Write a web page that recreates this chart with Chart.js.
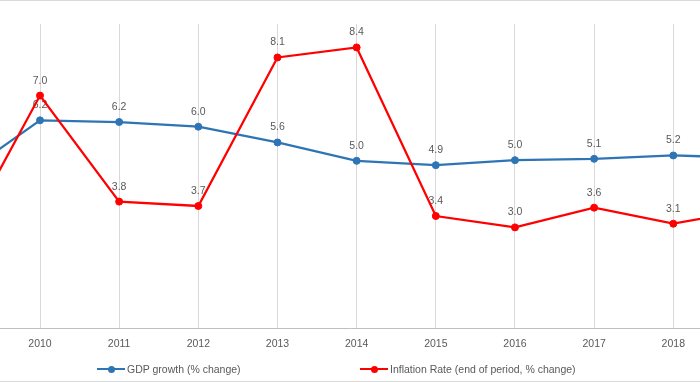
<!DOCTYPE html>
<html>
<head>
<meta charset="utf-8">
<script src="https://cdn.jsdelivr.net/npm/chart.js@4.4.1/dist/chart.umd.min.js"></script>
<style>
  html, body { margin: 0; padding: 0; background: #ffffff; overflow: hidden; }
  #wrap { position: relative; width: 700px; height: 382px; background: #ffffff; }
  #c { position: absolute; left: 0; top: 0; }
  .bd { position: absolute; left: 0; width: 700px; height: 1px; background: #d9d9d9; }
  .leg { position: absolute; top: 363px; height: 12px; display: flex; align-items: center;
         font-family: "Liberation Sans", Arial, sans-serif; font-size: 10.5px; color: #595959; white-space: nowrap; }
  .mk { position: relative; width: 28px; height: 8px; margin-right: 2px; }
  .mk::before { content: ""; position: absolute; left: 0; right: 0; top: 3px; height: 2px; background: var(--c); }
  .mk::after { content: ""; position: absolute; left: 10.5px; top: 0.5px; width: 7px; height: 7px; border-radius: 50%; background: var(--c); }
</style>
</head>
<body>
<div id="wrap">
  <canvas id="c" width="700" height="382"></canvas>
  <div class="bd" style="top:0"></div>
  <div class="bd" style="top:381px"></div>
  <div class="leg" style="left:97px"><span class="mk" style="--c:#2E75B6"></span><span id="l0"></span></div>
  <div class="leg" style="left:360px"><span class="mk" style="--c:#FF0000"></span><span id="l1"></span></div>
</div>
<script>
// Data (the chart is cropped: 2009 and 2019 lie just outside the frame)
const years = [2009, 2010, 2011, 2012, 2013, 2014, 2015, 2016, 2017, 2018, 2019];
const gdpGrowth = [4.55, 6.22, 6.17, 6.03, 5.56, 5.01, 4.88, 5.03, 5.07, 5.17, 5.1];
const inflation = [2.6, 6.96, 3.79, 3.66, 8.1, 8.4, 3.36, 3.02, 3.61, 3.13, 3.55];
const seriesNames = ["GDP growth (% change)", "Inflation Rate (end of period, % change)"];

document.getElementById('l0').textContent = seriesNames[0];
document.getElementById('l1').textContent = seriesNames[1];

const FONT = '"Liberation Sans", Arial, sans-serif';
const LABEL_COLOR = '#595959';

const toPoints = arr => arr.map((v, i) => ({ x: years[i], y: v }));

const dataLabels = {
  id: 'dataLabels',
  beforeDatasetsDraw(chart) {
    const ctx = chart.ctx;
    const area = chart.chartArea;
    ctx.save();
    ctx.font = '10.5px ' + FONT;
    ctx.fillStyle = LABEL_COLOR;
    ctx.textAlign = 'center';
    ctx.textBaseline = 'alphabetic';
    chart.data.datasets.forEach((ds, di) => {
      const meta = chart.getDatasetMeta(di);
      meta.data.forEach((pt, i) => {
        if (pt.x < area.left - 0.5 || pt.x > area.right + 0.5) return;
        ctx.fillText(ds.data[i].y.toFixed(1), pt.x, pt.y - 12);
      });
    });
    ctx.restore();
  }
};

new Chart(document.getElementById('c'), {
  type: 'line',
  data: {
    datasets: [
      {
        label: seriesNames[0],
        data: toPoints(gdpGrowth),
        borderColor: '#2E75B6',
        backgroundColor: '#2E75B6',
        borderWidth: 2.25,
        pointRadius: 3.5,
        pointBorderWidth: 1,
        pointBackgroundColor: '#2E75B6',
        pointBorderColor: '#2E75B6',
        tension: 0,
        order: 2
      },
      {
        label: seriesNames[1],
        data: toPoints(inflation),
        borderColor: '#FF0000',
        backgroundColor: '#FF0000',
        borderWidth: 2.25,
        pointRadius: 3.5,
        pointBorderWidth: 1,
        pointBackgroundColor: '#FF0000',
        pointBorderColor: '#FF0000',
        tension: 0,
        order: 1
      }
    ]
  },
  options: {
    responsive: false,
    animation: false,
    devicePixelRatio: 1,
    layout: { autoPadding: false, padding: { top: 24, bottom: 22, left: 0, right: 0 } },
    plugins: { legend: { display: false }, tooltip: { enabled: false } },
    scales: {
      x: {
        type: 'linear',
        min: 2009.4947,
        max: 2018.3373,
        grid: { color: '#d9d9d9', lineWidth: 1, drawTicks: false },
        border: { display: true, color: '#bfbfbf', width: 1 },
        ticks: {
          stepSize: 1,
          includeBounds: false,
          autoSkip: false,
          maxRotation: 0,
          padding: 9.5,
          color: LABEL_COLOR,
          font: { family: FONT, size: 10.5 },
          callback: v => (years.includes(v) ? String(v) : '')
        }
      },
      y: {
        display: false,
        min: 0,
        max: 9.1
      }
    }
  },
  plugins: [dataLabels]
});
</script>
</body>
</html>
